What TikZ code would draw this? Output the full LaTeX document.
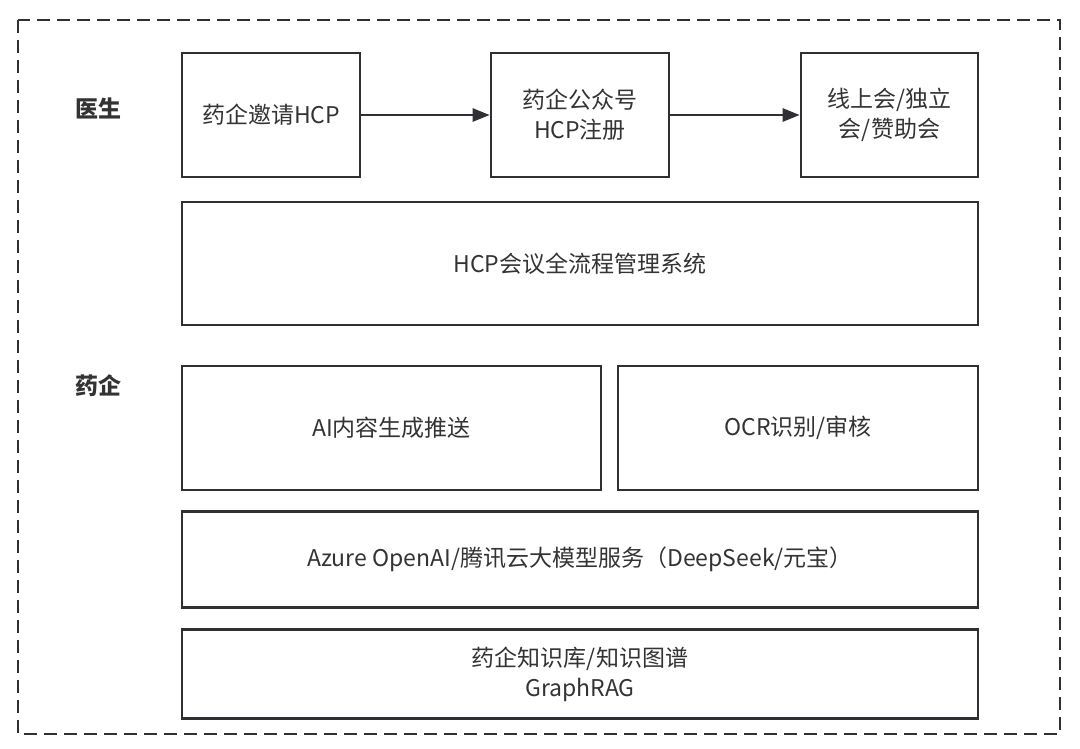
\documentclass[tikz,border=0pt]{standalone}
\usepackage{fontspec}
\setmainfont{Noto Sans CJK SC}
\usetikzlibrary{arrows.meta}
\definecolor{ln}{HTML}{2E3033}
\definecolor{tx}{HTML}{333333}
\tikzset{
  box/.style={draw=ln, line width=2.6pt, rectangle, inner sep=0pt, align=center, text=tx, font=\fontsize{23}{30}\selectfont},
  lab/.style={text=tx, font=\fontsize{23}{27}\selectfont\bfseries},
  arr/.style={draw=ln, line width=2.6pt, -{Triangle[length=17pt,width=13pt]}},
  outer/.style={draw=ln, line width=2.4pt, dash pattern=on 13pt off 7pt}
}
\begin{document}
\begin{tikzpicture}[x=1pt,y=-1pt]
\useasboundingbox (0,0) rectangle (1080,748);
\draw[outer] (18,20) rectangle (1060,734);
\node[lab] (doc) at (98,108) {医生};
\node[lab] (phar) at (98,386) {药企};
\node[box, minimum width=178pt, minimum height=124pt] (b1) at (271,115) {药企邀请HCP};
\node[box, minimum width=178pt, minimum height=124pt] (b2) at (580,115) {药企公众号\\HCP注册};
\node[box, minimum width=177pt, minimum height=124pt] (b3) at (889.5,115) {线上会/独立\\会/赞助会};
\node[box, minimum width=796pt, minimum height=123pt] (hcp) at (580,263.5) {HCP会议全流程管理系统};
\node[box, minimum width=419pt, minimum height=124pt] (ai) at (391.5,428) {AI内容生成推送};
\node[box, minimum width=360pt, minimum height=124pt] (ocr) at (798,428) {OCR识别/审核};
\node[box, minimum width=796pt, minimum height=96pt] (az) at (580,559.5) {Azure OpenAI/腾讯云大模型服务（DeepSeek/元宝）};
\node[box, minimum width=796pt, minimum height=89pt] (kb) at (580,674) {药企知识库/知识图谱\\GraphRAG};
\draw[arr] (b1) -- (b2);
\draw[arr] (b2) -- (b3);
\end{tikzpicture}
\end{document}
